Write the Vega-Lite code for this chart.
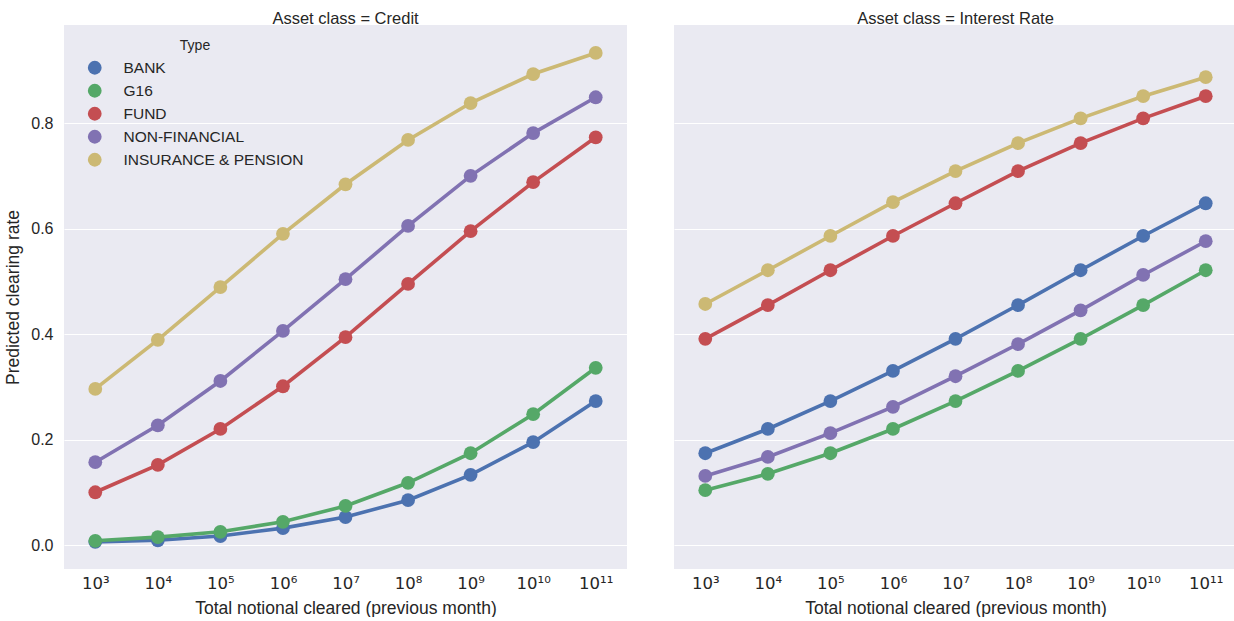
{
  "$schema": "https://vega.github.io/schema/vega-lite/v6.json",
  "padding": {"left": 4, "top": 10, "right": 0, "bottom": 0},
  "background": "white",
  "datasets": {
    "d": [
      {"asset":"Credit","type":"BANK","notional":"10³","rate":0.006},
      {"asset":"Credit","type":"BANK","notional":"10⁴","rate":0.009},
      {"asset":"Credit","type":"BANK","notional":"10⁵","rate":0.017},
      {"asset":"Credit","type":"BANK","notional":"10⁶","rate":0.032},
      {"asset":"Credit","type":"BANK","notional":"10⁷","rate":0.053},
      {"asset":"Credit","type":"BANK","notional":"10⁸","rate":0.085},
      {"asset":"Credit","type":"BANK","notional":"10⁹","rate":0.133},
      {"asset":"Credit","type":"BANK","notional":"10¹⁰","rate":0.195},
      {"asset":"Credit","type":"BANK","notional":"10¹¹","rate":0.273},
      {"asset":"Credit","type":"G16","notional":"10³","rate":0.008},
      {"asset":"Credit","type":"G16","notional":"10⁴","rate":0.015},
      {"asset":"Credit","type":"G16","notional":"10⁵","rate":0.025},
      {"asset":"Credit","type":"G16","notional":"10⁶","rate":0.044},
      {"asset":"Credit","type":"G16","notional":"10⁷","rate":0.074},
      {"asset":"Credit","type":"G16","notional":"10⁸","rate":0.118},
      {"asset":"Credit","type":"G16","notional":"10⁹","rate":0.174},
      {"asset":"Credit","type":"G16","notional":"10¹⁰","rate":0.248},
      {"asset":"Credit","type":"G16","notional":"10¹¹","rate":0.336},
      {"asset":"Credit","type":"FUND","notional":"10³","rate":0.100},
      {"asset":"Credit","type":"FUND","notional":"10⁴","rate":0.152},
      {"asset":"Credit","type":"FUND","notional":"10⁵","rate":0.220},
      {"asset":"Credit","type":"FUND","notional":"10⁶","rate":0.301},
      {"asset":"Credit","type":"FUND","notional":"10⁷","rate":0.394},
      {"asset":"Credit","type":"FUND","notional":"10⁸","rate":0.495},
      {"asset":"Credit","type":"FUND","notional":"10⁹","rate":0.595},
      {"asset":"Credit","type":"FUND","notional":"10¹⁰","rate":0.688},
      {"asset":"Credit","type":"FUND","notional":"10¹¹","rate":0.773},
      {"asset":"Credit","type":"NON-FINANCIAL","notional":"10³","rate":0.157},
      {"asset":"Credit","type":"NON-FINANCIAL","notional":"10⁴","rate":0.227},
      {"asset":"Credit","type":"NON-FINANCIAL","notional":"10⁵","rate":0.311},
      {"asset":"Credit","type":"NON-FINANCIAL","notional":"10⁶","rate":0.406},
      {"asset":"Credit","type":"NON-FINANCIAL","notional":"10⁷","rate":0.504},
      {"asset":"Credit","type":"NON-FINANCIAL","notional":"10⁸","rate":0.605},
      {"asset":"Credit","type":"NON-FINANCIAL","notional":"10⁹","rate":0.700},
      {"asset":"Credit","type":"NON-FINANCIAL","notional":"10¹⁰","rate":0.781},
      {"asset":"Credit","type":"NON-FINANCIAL","notional":"10¹¹","rate":0.849},
      {"asset":"Credit","type":"INSURANCE & PENSION","notional":"10³","rate":0.296},
      {"asset":"Credit","type":"INSURANCE & PENSION","notional":"10⁴","rate":0.389},
      {"asset":"Credit","type":"INSURANCE & PENSION","notional":"10⁵","rate":0.489},
      {"asset":"Credit","type":"INSURANCE & PENSION","notional":"10⁶","rate":0.590},
      {"asset":"Credit","type":"INSURANCE & PENSION","notional":"10⁷","rate":0.684},
      {"asset":"Credit","type":"INSURANCE & PENSION","notional":"10⁸","rate":0.768},
      {"asset":"Credit","type":"INSURANCE & PENSION","notional":"10⁹","rate":0.838},
      {"asset":"Credit","type":"INSURANCE & PENSION","notional":"10¹⁰","rate":0.893},
      {"asset":"Credit","type":"INSURANCE & PENSION","notional":"10¹¹","rate":0.933},
      {"asset":"Interest Rate","type":"BANK","notional":"10³","rate":0.174},
      {"asset":"Interest Rate","type":"BANK","notional":"10⁴","rate":0.220},
      {"asset":"Interest Rate","type":"BANK","notional":"10⁵","rate":0.273},
      {"asset":"Interest Rate","type":"BANK","notional":"10⁶","rate":0.330},
      {"asset":"Interest Rate","type":"BANK","notional":"10⁷","rate":0.391},
      {"asset":"Interest Rate","type":"BANK","notional":"10⁸","rate":0.455},
      {"asset":"Interest Rate","type":"BANK","notional":"10⁹","rate":0.521},
      {"asset":"Interest Rate","type":"BANK","notional":"10¹⁰","rate":0.586},
      {"asset":"Interest Rate","type":"BANK","notional":"10¹¹","rate":0.648},
      {"asset":"Interest Rate","type":"G16","notional":"10³","rate":0.104},
      {"asset":"Interest Rate","type":"G16","notional":"10⁴","rate":0.135},
      {"asset":"Interest Rate","type":"G16","notional":"10⁵","rate":0.174},
      {"asset":"Interest Rate","type":"G16","notional":"10⁶","rate":0.220},
      {"asset":"Interest Rate","type":"G16","notional":"10⁷","rate":0.273},
      {"asset":"Interest Rate","type":"G16","notional":"10⁸","rate":0.330},
      {"asset":"Interest Rate","type":"G16","notional":"10⁹","rate":0.391},
      {"asset":"Interest Rate","type":"G16","notional":"10¹⁰","rate":0.455},
      {"asset":"Interest Rate","type":"G16","notional":"10¹¹","rate":0.521},
      {"asset":"Interest Rate","type":"FUND","notional":"10³","rate":0.391},
      {"asset":"Interest Rate","type":"FUND","notional":"10⁴","rate":0.455},
      {"asset":"Interest Rate","type":"FUND","notional":"10⁵","rate":0.521},
      {"asset":"Interest Rate","type":"FUND","notional":"10⁶","rate":0.586},
      {"asset":"Interest Rate","type":"FUND","notional":"10⁷","rate":0.648},
      {"asset":"Interest Rate","type":"FUND","notional":"10⁸","rate":0.709},
      {"asset":"Interest Rate","type":"FUND","notional":"10⁹","rate":0.762},
      {"asset":"Interest Rate","type":"FUND","notional":"10¹⁰","rate":0.809},
      {"asset":"Interest Rate","type":"FUND","notional":"10¹¹","rate":0.851},
      {"asset":"Interest Rate","type":"NON-FINANCIAL","notional":"10³","rate":0.131},
      {"asset":"Interest Rate","type":"NON-FINANCIAL","notional":"10⁴","rate":0.167},
      {"asset":"Interest Rate","type":"NON-FINANCIAL","notional":"10⁵","rate":0.212},
      {"asset":"Interest Rate","type":"NON-FINANCIAL","notional":"10⁶","rate":0.262},
      {"asset":"Interest Rate","type":"NON-FINANCIAL","notional":"10⁷","rate":0.320},
      {"asset":"Interest Rate","type":"NON-FINANCIAL","notional":"10⁸","rate":0.381},
      {"asset":"Interest Rate","type":"NON-FINANCIAL","notional":"10⁹","rate":0.445},
      {"asset":"Interest Rate","type":"NON-FINANCIAL","notional":"10¹⁰","rate":0.512},
      {"asset":"Interest Rate","type":"NON-FINANCIAL","notional":"10¹¹","rate":0.576},
      {"asset":"Interest Rate","type":"INSURANCE & PENSION","notional":"10³","rate":0.457},
      {"asset":"Interest Rate","type":"INSURANCE & PENSION","notional":"10⁴","rate":0.521},
      {"asset":"Interest Rate","type":"INSURANCE & PENSION","notional":"10⁵","rate":0.586},
      {"asset":"Interest Rate","type":"INSURANCE & PENSION","notional":"10⁶","rate":0.650},
      {"asset":"Interest Rate","type":"INSURANCE & PENSION","notional":"10⁷","rate":0.709},
      {"asset":"Interest Rate","type":"INSURANCE & PENSION","notional":"10⁸","rate":0.762},
      {"asset":"Interest Rate","type":"INSURANCE & PENSION","notional":"10⁹","rate":0.809},
      {"asset":"Interest Rate","type":"INSURANCE & PENSION","notional":"10¹⁰","rate":0.851},
      {"asset":"Interest Rate","type":"INSURANCE & PENSION","notional":"10¹¹","rate":0.887}
    ]
  },
  "data": {"name": "d"},
  "facet": {
    "column": {
      "field": "asset",
      "type": "nominal",
      "header": {
        "title": null,
        "labelExpr": "'Asset class = ' + datum.value",
        "labelFont": "Liberation Sans",
        "labelFontSize": 16.5,
        "labelColor": "#262626",
        "labelPadding": -2
      }
    }
  },
  "spacing": {"column": 47},
  "resolve": {"scale": {"y": "shared", "x": "shared"}},
  "spec": {
    "width": 563,
    "height": 544,
    "layer": [
      {
        "mark": {"type": "line", "strokeWidth": 3.6},
        "encoding": {
          "x": {"field": "notional", "type": "ordinal", "sort": ["10³","10⁴","10⁵","10⁶","10⁷","10⁸","10⁹","10¹⁰","10¹¹"], "scale": {"type": "point", "padding": 0.5}},
          "y": {"field": "rate", "type": "quantitative"},
          "color": {"field": "type", "type": "nominal",
            "scale": {"domain": ["BANK","G16","FUND","NON-FINANCIAL","INSURANCE & PENSION"], "range": ["#4C72B0","#55A868","#C44E52","#8172B2","#CCB974"]}},
          "detail": {"field": "type"}
        }
      },
      {
        "mark": {"type": "point", "filled": true, "opacity": 1, "size": 190},
        "encoding": {
          "x": {
            "field": "notional", "type": "ordinal",
            "sort": ["10³","10⁴","10⁵","10⁶","10⁷","10⁸","10⁹","10¹⁰","10¹¹"],
            "scale": {"type": "point", "padding": 0.5},
            "axis": {"title": "Total notional cleared (previous month)", "labelAngle": 0, "labelAlign": "center", "ticks": false, "domain": false, "grid": false, "labelPadding": 14, "labelFont": "DejaVu Sans", "labelFontSize": 16.5, "titlePadding": 8}
          },
          "y": {
            "field": "rate", "type": "quantitative",
            "scale": {"domain": [-0.0455, 0.986], "nice": false, "zero": false},
            "axis": {"title": "Predicted clearing rate", "values": [0, 0.2, 0.4, 0.6, 0.8], "format": ".1f", "ticks": false, "domain": false, "labelPadding": 11, "titlePadding": 8}
          },
          "color": {
            "field": "type", "type": "nominal",
            "scale": {"domain": ["BANK","G16","FUND","NON-FINANCIAL","INSURANCE & PENSION"], "range": ["#4C72B0","#55A868","#C44E52","#8172B2","#CCB974"]},
            "legend": {
              "title": "Type",
              "orient": "none",
              "legendX": 23,
              "legendY": 14,
              "titleAnchor": "middle",
              "titleFont": "Liberation Sans",
              "titleFontSize": 14,
              "titleFontWeight": "normal",
              "titleColor": "#262626",
              "titlePadding": 7,
              "labelFont": "Liberation Sans",
              "labelFontSize": 15.5,
              "labelColor": "#262626",
              "labelOffset": 21,
              "labelLimit": 400,
              "symbolType": "circle",
              "symbolSize": 190,
              "symbolStrokeWidth": 0,
              "symbolOpacity": 1,
              "rowPadding": 6,
              "padding": 0
            }
          }
        }
      }
    ]
  },
  "config": {
    "view": {"fill": "#EAEAF2", "stroke": null},
    "axis": {
      "labelFont": "Liberation Sans",
      "labelFontSize": 16,
      "labelColor": "#262626",
      "titleFont": "Liberation Sans",
      "titleFontSize": 17.5,
      "titleFontWeight": "normal",
      "titleColor": "#262626",
      "gridColor": "white",
      "gridWidth": 1.2,
      "gridOpacity": 1
    }
  }
}
